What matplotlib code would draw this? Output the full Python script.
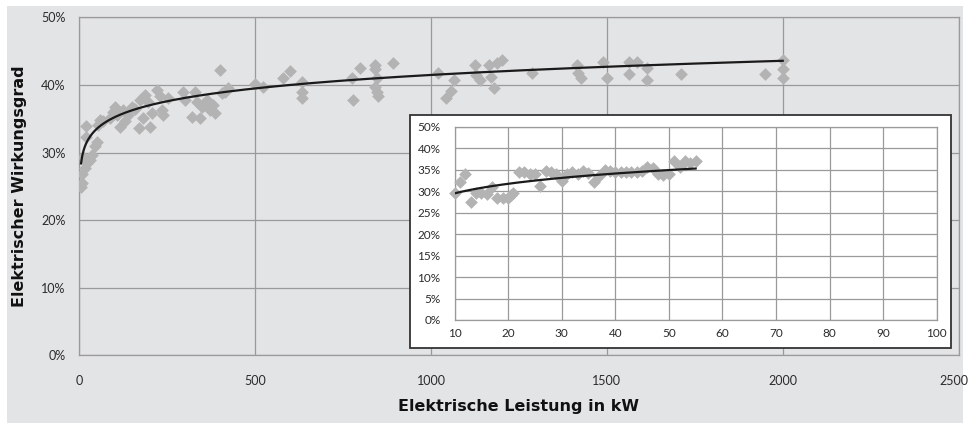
import matplotlib.pyplot as plt
from matplotlib.patches import Rectangle
from matplotlib.ticker import FixedLocator, FixedFormatter
from matplotlib.transforms import ScaledTranslation
import numpy as np

plt.rcParams['font.family'] = ['Lato', 'DejaVu Sans']

# Hauptdiagramm: elektrische Leistung (kW) / elektrischer Wirkungsgrad (%)
leistung = [5, 7, 8, 16, 23, 30, 36, 11, 19, 19, 45, 49, 54, 59, 68, 87, 97, 101,
            108, 116, 125, 130, 139, 149, 158, 173, 171, 182, 187, 196, 201, 206,
            220, 230, 234, 239, 253, 296, 301, 320, 329, 334, 343, 348, 362, 372,
            381, 386, 400, 405, 415, 424, 500, 523, 580, 599, 632, 632, 632, 775,
            779, 798, 841, 841, 846, 841, 846, 850, 891,
            1019, 1042, 1057, 1065, 1124, 1129, 1138, 1166, 1171, 1179, 1187, 1202,
            1287, 1414, 1419, 1426, 1489, 1500, 1562, 1562, 1587, 1613, 1613, 1711,
            1949, 2001, 2001, 2001]
wirkungsgrad = [24.9, 25.5, 26.8, 27.7, 28.4, 28.9, 29.6, 29.4, 33.9, 32.3, 30.9, 31.6,
                34.1, 34.8, 34.6, 35.1, 36.0, 36.8, 35.5, 33.8, 36.3, 34.6, 35.5, 36.8,
                36.5, 37.8, 33.6, 35.1, 38.5, 37.5, 33.8, 35.8, 39.2, 38.3, 36.3, 35.5,
                38.0, 39.0, 37.8, 35.3, 39.0, 37.5, 35.1, 36.8, 37.8, 36.3, 37.0, 35.8,
                42.2, 38.8, 39.0, 39.5, 40.2, 39.7, 41.0, 42.0, 40.5, 39.0, 38.0, 41.0,
                37.8, 42.5, 42.9, 42.3, 41.0, 39.7, 39.0, 38.3, 43.2,
                41.8, 38.0, 39.1, 40.7, 42.9, 41.5, 40.7, 42.9, 41.2, 39.6, 43.2, 43.7,
                41.7, 42.9, 41.7, 41.0, 43.4, 41.0, 43.4, 41.6, 43.4, 42.5, 40.7, 41.6,
                41.6, 43.7, 42.4, 41.0]

# Ausschnitt 10-100 kW
leistung_klein = [10, 11, 12, 13, 14, 15, 16, 17, 18, 19, 20, 20.5, 21, 22, 23, 24, 25,
                  26, 27, 28, 29, 30, 31, 32, 33, 34, 35, 36, 37, 38, 39, 40, 41, 42,
                  43, 44, 45, 46, 47, 48, 49, 50, 51, 52, 53, 54, 55]
wirkungsgrad_klein = [29.5, 32.2, 34.1, 27.5, 29.5, 29.5, 29.3, 30.9, 28.5, 28.5, 28.5,
                      29.1, 29.6, 34.5, 34.5, 34.1, 34.0, 31.2, 34.8, 34.5, 34.1, 32.4,
                      34.0, 34.5, 34.0, 34.8, 34.3, 32.2, 33.5, 34.9, 34.8, 34.5, 34.5,
                      34.5, 34.5, 34.5, 34.8, 35.5, 35.3, 34.1, 33.8, 34.1, 37.1, 35.7,
                      37.1, 36.5, 37.1]

# Trendlinien (Potenzfunktion y = c * x^p)
trend_gross = (25.4, 0.071, 4.8, 2000)
trend_klein = (23.15, 0.105, 10, 55)

grau_hg = '#e3e4e6'
gitter = '#9a9a9a'
punkt = '#b3b3b3'
text_farbe = '#2b2b2b'

fig = plt.figure(figsize=(9.7, 4.23), dpi=100, facecolor='white')
fig.patches.append(Rectangle((7 / 970, 0), 956 / 970, 417 / 423, transform=fig.transFigure,
                             facecolor=grau_hg, edgecolor='none', zorder=-5))

ax = fig.add_axes([0.0818, 0.160, 0.9064, 0.799])
ax.set_zorder(1)
ax.set_facecolor(grau_hg)
ax.scatter(leistung, wirkungsgrad, marker='D', s=42, color=punkt, linewidths=0, zorder=3)
c, p, x0, x1 = trend_gross
xs = np.linspace(x0, x1, 600)
ax.plot(xs, c * xs ** p, color='#1a1a1a', lw=1.6, zorder=4)
ax.set_xlim(0, 2500)
ax.set_ylim(0, 50)
ax.set_xticks(range(0, 2501, 500))
ax.set_yticks(range(0, 51, 10))
ax.set_yticklabels([f'{v}%' for v in range(0, 51, 10)])
ax.grid(True, color=gitter, lw=0.9)
ax.set_axisbelow(True)
ax.tick_params(length=0, labelsize=9, colors=text_farbe, pad=14)
ax.tick_params(axis='y', pad=10)
for s in ax.spines.values():
    s.set_color(gitter)
    s.set_linewidth(0.9)
# letzte Beschriftung etwas nach links, damit sie nicht abgeschnitten wird
letzte = ax.get_xticklabels()[-1]
letzte.set_transform(letzte.get_transform() + ScaledTranslation(-0.05, 0, fig.dpi_scale_trans))

ax.set_xlabel('Elektrische Leistung in kW', fontsize=11.5, fontweight='bold',
              family='DejaVu Sans', color='#111111', labelpad=9)
ax.set_ylabel('Elektrischer Wirkungsgrad', fontsize=11.5, fontweight='bold',
              family='DejaVu Sans', color='#111111', labelpad=10)

# Kasten des Ausschnitts
box = Rectangle((410 / 970, 75 / 423), 541 / 970, 233 / 423,
                transform=fig.transFigure, facecolor='white',
                edgecolor='#333333', lw=1.3, zorder=5)
fig.patches.append(box)

ins = fig.add_axes([0.4686, 0.2435, 0.4971, 0.457])
ins.set_zorder(6)
ins.set_facecolor('white')
ins.scatter(leistung_klein, wirkungsgrad_klein, marker='D', s=42, color=punkt,
            linewidths=0, zorder=3, clip_on=False)
c, p, x0, x1 = trend_klein
xs = np.linspace(x0, x1, 200)
ins.plot(xs, c * xs ** p, color='#1a1a1a', lw=1.6, zorder=4)
ins.set_xlim(10, 100)
ins.set_ylim(0, 45)
ins.set_xticks(range(10, 101, 10))
ins.yaxis.set_major_locator(FixedLocator(range(0, 46, 5)))
ins.yaxis.set_major_formatter(FixedFormatter(
    ['0%', '5%', '10%', '15%', '20%', '25%', '30%', '35%', '40%', '50%']))
ins.grid(True, color=gitter, lw=0.9)
ins.set_axisbelow(True)
ins.tick_params(length=0, labelsize=8.5, colors=text_farbe)
ins.tick_params(axis='x', pad=6)
ins.tick_params(axis='y', pad=10)
for s in ins.spines.values():
    s.set_color(gitter)
    s.set_linewidth(0.9)

fig.savefig('out.png', dpi=100, facecolor='white')
